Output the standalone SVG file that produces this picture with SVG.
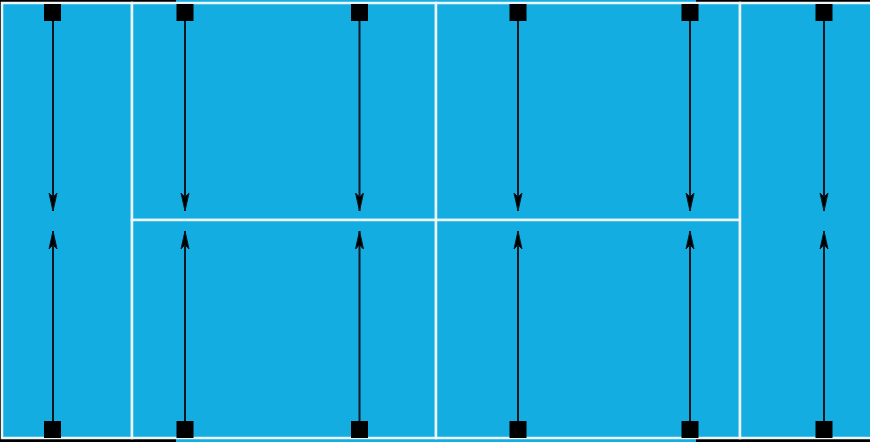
<svg xmlns="http://www.w3.org/2000/svg" width="870" height="442" viewBox="0 0 870 442">
<defs>
<style>
.bg{fill:#000}
.band{fill:#13ade2}
.cell{fill:#13ade2;stroke:#eef5f8;stroke-width:2.5}
.sq{fill:#000}
.ln{stroke:#0b1822;stroke-width:2;fill:none;marker-end:url(#ah)}
</style>
<marker id="ah" viewBox="0 0 18 10" refX="18" refY="5" markerWidth="18" markerHeight="10" markerUnits="userSpaceOnUse" orient="auto">
<path d="M0,1 L18,5 L0,9 L4,5 Z" fill="#000" stroke="#0b1822" stroke-width="1"/>
</marker>
</defs>
<rect class="bg" x="0" y="0" width="870" height="442"/>
<rect class="band" x="176" y="0" width="520" height="442"/>
<g id="col-left"><rect class="cell" x="2" y="3" width="130" height="435"/></g>
<g id="cell-top-1"><rect class="cell" x="132" y="3" width="304" height="217"/></g>
<g id="cell-top-2"><rect class="cell" x="436" y="3" width="304" height="217"/></g>
<g id="cell-bot-1"><rect class="cell" x="132" y="220" width="304" height="218"/></g>
<g id="cell-bot-2"><rect class="cell" x="436" y="220" width="304" height="218"/></g>
<g id="col-right"><rect class="cell" x="740" y="3" width="140" height="435"/></g>
<g id="connectors">
<line class="ln" x1="53" y1="21" x2="53" y2="211"/>
<line class="ln" x1="185" y1="21" x2="185" y2="211"/>
<line class="ln" x1="359.5" y1="21" x2="359.5" y2="211"/>
<line class="ln" x1="518" y1="21" x2="518" y2="211"/>
<line class="ln" x1="690" y1="21" x2="690" y2="211"/>
<line class="ln" x1="824" y1="21" x2="824" y2="211"/>
<line class="ln" x1="53" y1="421" x2="53" y2="231"/>
<line class="ln" x1="185" y1="421" x2="185" y2="231"/>
<line class="ln" x1="359.5" y1="421" x2="359.5" y2="231"/>
<line class="ln" x1="518" y1="421" x2="518" y2="231"/>
<line class="ln" x1="690" y1="421" x2="690" y2="231"/>
<line class="ln" x1="824" y1="421" x2="824" y2="231"/>
</g>
<g id="ports-top">
<rect class="sq" x="44" y="4" width="17" height="17"/>
<rect class="sq" x="176.5" y="4" width="17" height="17"/>
<rect class="sq" x="351" y="4" width="17" height="17"/>
<rect class="sq" x="509.5" y="4" width="17" height="17"/>
<rect class="sq" x="681.5" y="4" width="17" height="17"/>
<rect class="sq" x="815.5" y="4" width="17" height="17"/>
</g>
<g id="ports-bottom">
<rect class="sq" x="44" y="421" width="17" height="17"/>
<rect class="sq" x="176.5" y="421" width="17" height="17"/>
<rect class="sq" x="351" y="421" width="17" height="17"/>
<rect class="sq" x="509.5" y="421" width="17" height="17"/>
<rect class="sq" x="681.5" y="421" width="17" height="17"/>
<rect class="sq" x="815.5" y="421" width="17" height="17"/>
</g>
</svg>
